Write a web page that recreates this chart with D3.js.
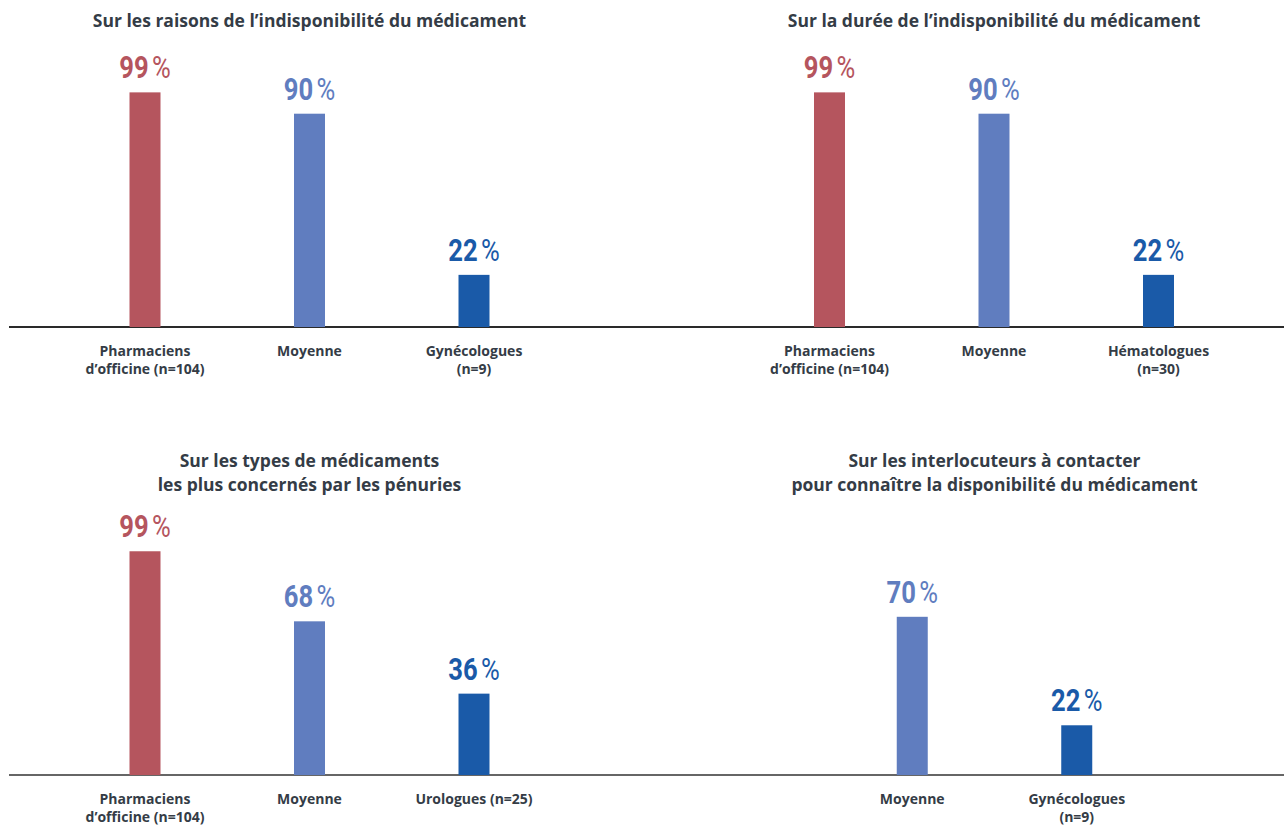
<!DOCTYPE html>
<html><head><meta charset="utf-8">
<script src="https://cdn.jsdelivr.net/npm/d3@7"></script>
<style>
body{margin:0;background:#fff;}
svg{display:block;}
</style></head>
<body>
<svg id="c" width="1284" height="825"></svg>
<script>
// ---- data ----
const titles = [
  ["Sur les raisons de l’indisponibilité du médicament"],
  ["Sur la durée de l’indisponibilité du médicament"],
  ["Sur les types de médicaments", "les plus concernés par les pénuries"],
  ["Sur les interlocuteurs à contacter", "pour connaître la disponibilité du médicament"]
];
const categories1 = [["Pharmaciens","d’officine (n=104)"],["Moyenne"],["Gynécologues","(n=9)"]];
const values1 = [99, 90, 22];
const categories2 = [["Pharmaciens","d’officine (n=104)"],["Moyenne"],["Hématologues","(n=30)"]];
const values2 = [99, 90, 22];
const categories3 = [["Pharmaciens","d’officine (n=104)"],["Moyenne"],["Urologues (n=25)"]];
const values3 = [99, 68, 36];
const categories4 = [["Moyenne"],["Gynécologues","(n=9)"]];
const values4 = [70, 22];
const groups1 = ["pharma","moyenne","specialist"];
const groups2 = ["pharma","moyenne","specialist"];
const groups3 = ["pharma","moyenne","specialist"];
const groups4 = ["moyenne","specialist"];

// ---- layout/style ----
const colors = {pharma:"#b5555e", moyenne:"#607dbf", specialist:"#1a5aa8"};
const panels = [
  {cats:categories1, vals:values1, grp:groups1, title:titles[0], cx:309.5, base:327, h:237, titleY:27},
  {cats:categories2, vals:values2, grp:groups2, title:titles[1], cx:994, base:327, h:237, titleY:27},
  {cats:categories3, vals:values3, grp:groups3, title:titles[2], cx:309.5, base:775, h:226, titleY:467},
  {cats:categories4, vals:values4, grp:groups4, title:titles[3], cx:994.5, base:775, h:226, titleY:467}
];
const svg = d3.select("#c");
const step = 164.5, barW = 31;

// baselines
[{y:327, c:"#2a2a2a"},{y:775, c:"#666"}].forEach(l=>{
  svg.append("line").attr("x1",9).attr("x2",1284).attr("y1",l.y).attr("y2",l.y)
    .attr("stroke",l.c).attr("stroke-width",1.8);
});

panels.forEach(p=>{
  const n = p.vals.length;
  const idx = d3.range(n);
  const x = d3.scalePoint().domain(idx).range([p.cx - step*(n-1)/2, p.cx + step*(n-1)/2]);
  const y = d3.scaleLinear().domain([0,100]).range([p.base, p.base - p.h]);
  const g = svg.append("g");

  // title
  const t = g.append("text").attr("text-anchor","middle")
    .attr("font-family","'Open Sans', 'Noto Sans', sans-serif").attr("font-weight",700)
    .attr("font-size",17.5).attr("fill","#343c46");
  p.title.forEach((line,i)=>{
    t.append("tspan").attr("x",p.cx).attr("y",p.titleY + i*24).text(line);
  });

  // bars
  g.selectAll("rect").data(idx).join("rect")
    .attr("x",i=>x(i)-barW/2).attr("width",barW)
    .attr("y",i=>y(p.vals[i])).attr("height",i=>y(0)-y(p.vals[i]))
    .attr("fill",i=>colors[p.grp[i]]);

  // value labels (condensed)
  idx.forEach(i=>{
    const lg = g.append("g").attr("transform",`translate(${x(i)},${y(p.vals[i]) - 14}) scale(0.84,1)`);
    const lt = lg.append("text").attr("text-anchor","middle")
      .attr("font-family","Roboto, 'DejaVu Sans', sans-serif")
      .attr("font-size",30.5).attr("fill",colors[p.grp[i]]);
    lt.append("tspan").attr("font-weight",700).text(p.vals[i]);
    lt.append("tspan").attr("font-weight",400).attr("dx",4).text("%");
  });

  // category labels
  idx.forEach(i=>{
    const ct = g.append("text").attr("text-anchor","middle")
      .attr("font-family","'Open Sans','Noto Sans',sans-serif").attr("font-weight",700)
      .attr("font-size",14).attr("fill","#343c46");
    p.cats[i].forEach((line,k)=>{
      ct.append("tspan").attr("x",x(i)).attr("y",p.base + 29 + k*18).text(line);
    });
  });
});
</script>
</body></html>
